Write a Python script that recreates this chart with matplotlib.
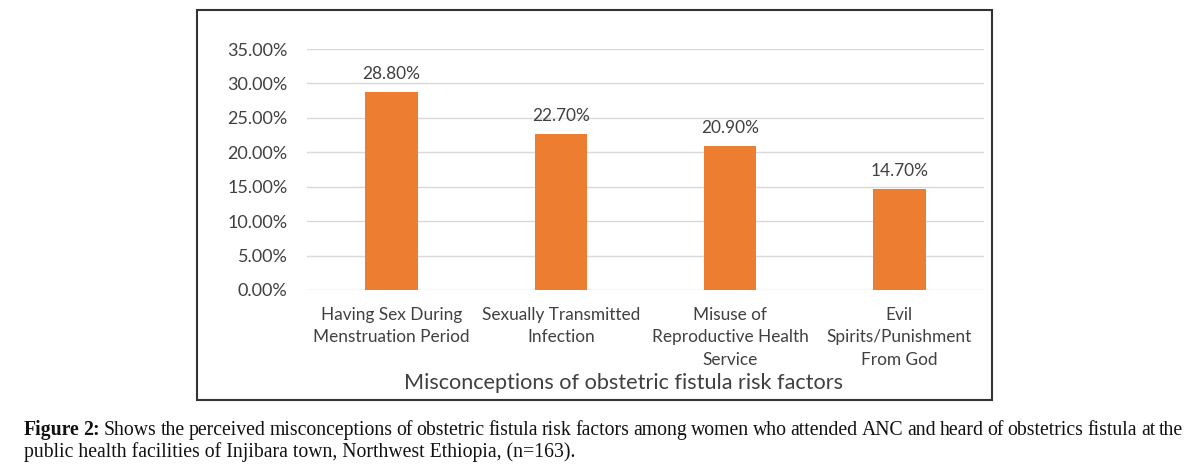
import matplotlib.pyplot as plt
from matplotlib.patches import Rectangle
from matplotlib.ticker import FuncFormatter

# data
factors = ['Having Sex During\nMenstruation Period',
           'Sexually Transmitted\nInfection',
           'Misuse of\nReproductive Health\nService',
           'Evil\nSpirits/Punishment\nFrom God']
percents = [28.8, 22.7, 20.9, 14.7]
yticks = [0, 5, 10, 15, 20, 25, 30, 35]

W, H = 1196, 471
fig = plt.figure(figsize=(W / 100, H / 100), dpi=100)
plt.rcParams['font.family'] = ['Lato', 'DejaVu Sans']
txt = '#404040'

# axes box in pixels: left 307, right 984, 0% at y=290, 35% at y=49
ax = fig.add_axes([307 / W, (H - 290) / H, (984 - 307) / W, (290 - 49) / H])
x = range(len(factors))
ax.bar(x, percents, width=0.31, color='#ED7D31', zorder=3)
for i, v in enumerate(percents):
    ax.annotate('%.2f%%' % v, (i, v), xytext=(0, 7), textcoords='offset points',
                ha='center', va='bottom', fontsize=12.4, color=txt)

ax.set_xlim(-0.5, len(factors) - 0.5)
ax.set_ylim(0, 35)
ax.set_yticks(yticks)
ax.yaxis.set_major_formatter(FuncFormatter(lambda v, p: '%.2f%%' % v))
ax.set_xticks(list(x))
ax.set_xticklabels(factors, fontsize=12.4, color=txt, linespacing=1.5)
ax.tick_params(axis='y', labelsize=13, labelcolor=txt, length=0, pad=14)
ax.tick_params(axis='x', length=0, pad=12)
ax.grid(axis='y', color='#d9d9d9', linewidth=1, zorder=0)
for s in ax.spines.values():
    s.set_visible(False)
ax.set_xlabel('Misconceptions of obstetric fistula risk factors',
              fontsize=15.6, color=txt, labelpad=0)
ax.xaxis.set_label_coords(0.467, -0.345)

# chart border
fig.patches.append(Rectangle((197 / W, (H - 400) / H), (992 - 197) / W, (400 - 10) / H,
                             transform=fig.transFigure, fill=False,
                             edgecolor='#333333', linewidth=1.5))

# caption, first line justified between x=24 and x=1183
cap1 = ('Shows the perceived misconceptions of obstetric fistula risk factors among women '
        'who attended ANC and heard of obstetrics fistula at the')
cap2 = 'public health facilities of Injibara town, Northwest Ethiopia, (n=163).'
cfont = dict(fontsize=14.2, family='Liberation Serif', va='baseline', color='#111111')
y1 = (H - 435) / H
y2 = (H - 457) / H
r = fig.canvas.get_renderer()
words = [('Figure', 'bold'), ('2:', 'bold')] + [(w, 'normal') for w in cap1.split()]
objs = [fig.text(0, y1, w, fontweight=fw, **cfont) for w, fw in words]
widths = [o.get_window_extent(r).width for o in objs]
gap = (1183 - 24 - sum(widths)) / (len(objs) - 1)
pos = 24
for o, w in zip(objs, widths):
    o.set_x(pos / W)
    pos += w + gap
fig.text(24 / W, y2, cap2, **cfont)

fig.savefig('out.png', dpi=100)
